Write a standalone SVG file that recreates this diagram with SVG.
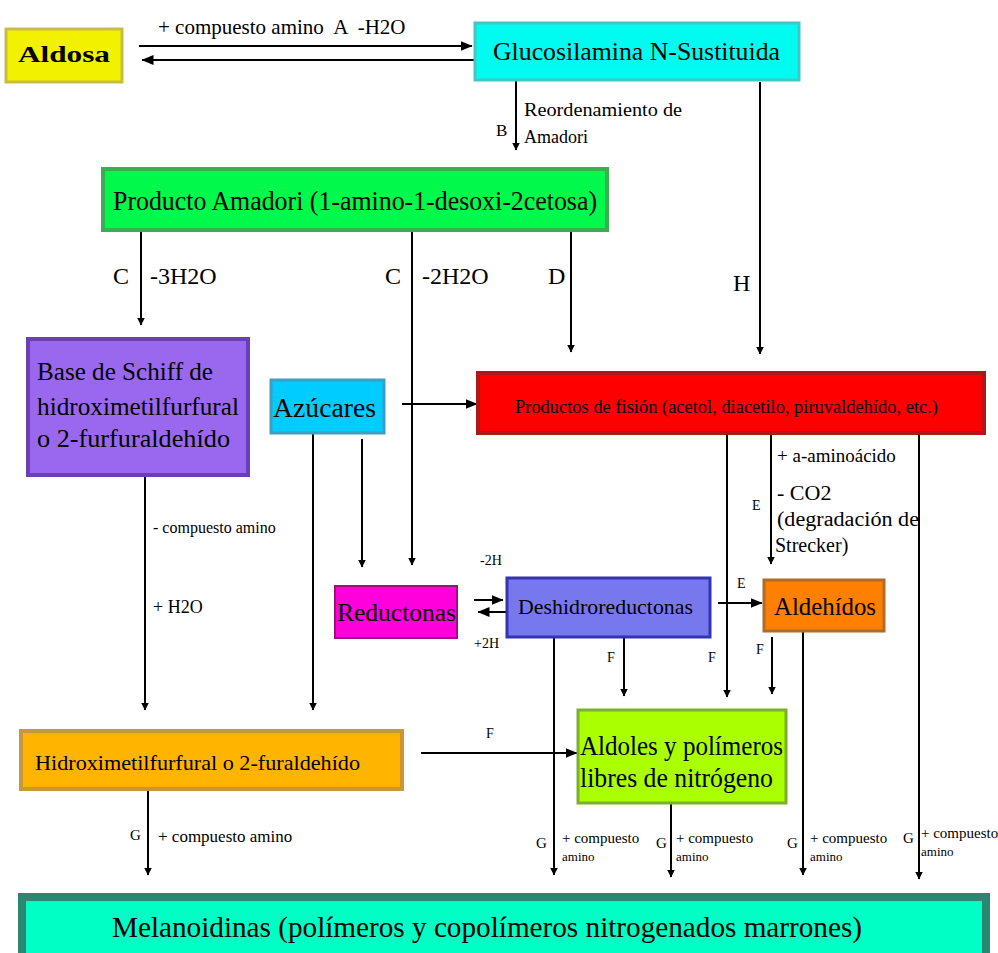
<svg xmlns="http://www.w3.org/2000/svg" width="998" height="953" viewBox="0 0 998 953">
<defs>
<marker id="ah" viewBox="0 0 8 8" refX="7.5" refY="4" markerWidth="8" markerHeight="8" markerUnits="userSpaceOnUse" orient="auto"><path d="M0,0 L8,4 L0,8 z" fill="#000"/></marker>
<marker id="ahL" viewBox="0 0 12 10" refX="11.5" refY="5" markerWidth="12" markerHeight="10" markerUnits="userSpaceOnUse" orient="auto"><path d="M0,0 L12,5 L0,10 z" fill="#000"/></marker>
</defs>
<style>
text{font-family:"Liberation Serif","Times New Roman",serif;fill:#000}
.c line{stroke:#000;stroke-width:2;fill:none}
.a{marker-end:url(#ah)}
.al{marker-end:url(#ahL)}
.lbl{font-size:24px}
.sm{font-size:15px}
.xs{font-size:13px}
</style>
<rect width="998" height="953" fill="#fff"/>

<g id="connectors" class="c">
<line class="al" x1="139" y1="46" x2="472" y2="46"/>
<line class="al" x1="474" y1="60" x2="142" y2="60"/>
<line class="a" x1="516" y1="80" x2="516" y2="150"/>
<line class="a" x1="760" y1="82" x2="760" y2="354"/>
<line class="a" x1="141" y1="230" x2="141" y2="325"/>
<line class="a" x1="412" y1="230" x2="412" y2="565"/>
<line class="a" x1="571" y1="230" x2="571" y2="352"/>
<line class="al" x1="402" y1="404" x2="477" y2="404"/>
<line class="a" x1="145" y1="475" x2="145" y2="710"/>
<line class="a" x1="313" y1="433" x2="313" y2="710"/>
<line class="a" x1="362" y1="439" x2="362" y2="567"/>
<line class="a" x1="727" y1="434" x2="727" y2="697"/>
<line class="a" x1="771" y1="434" x2="771" y2="564"/>
<line class="a" x1="919" y1="434" x2="919" y2="879"/>
<line class="al" x1="474" y1="600" x2="503" y2="600"/>
<line class="al" x1="506" y1="612" x2="478" y2="612"/>
<line class="al" x1="718" y1="603" x2="762" y2="603"/>
<line class="a" x1="554" y1="637" x2="554" y2="875"/>
<line class="a" x1="624" y1="637" x2="624" y2="696"/>
<line class="a" x1="772" y1="637" x2="772" y2="694"/>
<line class="a" x1="803" y1="632" x2="803" y2="875"/>
<line class="a" x1="671" y1="803" x2="671" y2="877"/>
<line class="al" x1="421" y1="753" x2="577" y2="753"/>
<line class="a" x1="148" y1="790" x2="148" y2="875"/>
</g>

<g id="edge-labels">
<text x="158" y="34" font-size="21" xml:space="preserve">+ compuesto amino  A  -H2O</text>
<text x="496" y="136" font-size="17">B</text>
<text x="524" y="116" font-size="18" textLength="158" lengthAdjust="spacingAndGlyphs">Reordenamiento de</text>
<text x="524" y="143" font-size="18">Amadori</text>
<text x="113" y="284" class="lbl">C</text>
<text x="150" y="284" class="lbl">-3H2O</text>
<text x="385" y="284" class="lbl">C</text>
<text x="422" y="284" class="lbl">-2H2O</text>
<text x="548" y="284" class="lbl">D</text>
<text x="733" y="291" class="lbl">H</text>
<text x="153" y="533" font-size="16">- compuesto amino</text>
<text x="153" y="613" font-size="18">+ H2O</text>
<text x="777" y="462" font-size="19">+ a-aminoácido</text>
<text x="777" y="500" font-size="22">- CO2</text>
<text x="777" y="526" font-size="20" textLength="142" lengthAdjust="spacingAndGlyphs">(degradación de</text>
<text x="775" y="552" font-size="20">Strecker)</text>
<text x="752" y="510" font-size="14">E</text>
<text x="480" y="565" font-size="14">-2H</text>
<text x="474" y="648" font-size="14">+2H</text>
<text x="737" y="588" font-size="14">E</text>
<text x="607" y="662" font-size="14">F</text>
<text x="708" y="662" font-size="14">F</text>
<text x="756" y="654" font-size="14">F</text>
<text x="486" y="738" font-size="14">F</text>
<text x="130" y="840" font-size="15">G</text>
<text x="158" y="842" font-size="17">+ compuesto amino</text>
<text x="536" y="848" font-size="15">G</text>
<text x="562" y="843" class="sm">+ compuesto</text>
<text x="562" y="861" class="xs">amino</text>
<text x="656" y="848" font-size="15">G</text>
<text x="676" y="843" class="sm">+ compuesto</text>
<text x="676" y="861" class="xs">amino</text>
<text x="787" y="848" font-size="15">G</text>
<text x="810" y="843" class="sm">+ compuesto</text>
<text x="810" y="861" class="xs">amino</text>
<text x="903" y="843" font-size="15">G</text>
<text x="921" y="838" class="sm">+ compuesto</text>
<text x="921" y="856" class="xs">amino</text>
</g>

<g id="aldosa">
<rect x="6" y="29" width="116" height="53" fill="#f2f200" stroke="#c9bb4a" stroke-width="3"/>
<text x="18" y="62" font-size="23" font-weight="bold" textLength="92" lengthAdjust="spacingAndGlyphs">Aldosa</text>
</g>

<g id="glucosilamina">
<rect x="475" y="23" width="324" height="57" fill="#00fbf0" stroke="#45c6c6" stroke-width="3"/>
<text x="493" y="60" font-size="26" textLength="287" lengthAdjust="spacingAndGlyphs">Glucosilamina N-Sustituida</text>
</g>

<g id="amadori">
<rect x="103" y="169" width="504" height="61" fill="#00f94a" stroke="#38b052" stroke-width="4"/>
<text x="113" y="210" font-size="27" textLength="484" lengthAdjust="spacingAndGlyphs">Producto Amadori (1-amino-1-desoxi-2cetosa)</text>
</g>

<g id="schiff">
<rect x="28" y="339" width="220" height="136" fill="#9a68ee" stroke="#6b3fb8" stroke-width="4"/>
<text x="37" y="380" font-size="25" textLength="176" lengthAdjust="spacingAndGlyphs">Base de Schiff de</text>
<text x="37" y="415" font-size="25" textLength="202" lengthAdjust="spacingAndGlyphs">hidroximetilfurfural</text>
<text x="37" y="447" font-size="25" textLength="193" lengthAdjust="spacingAndGlyphs">o 2-furfuraldehído</text>
</g>

<g id="azucares">
<rect x="271" y="380" width="113" height="53" fill="#00ccff" stroke="#3d9fc2" stroke-width="3"/>
<text x="273" y="417" font-size="27" textLength="103" lengthAdjust="spacingAndGlyphs">Azúcares</text>
</g>

<g id="fision">
<rect x="478" y="373" width="506" height="60" fill="#ff0000" stroke="#b01818" stroke-width="4"/>
<text x="515" y="413" font-size="18" textLength="423" lengthAdjust="spacingAndGlyphs">Productos de fisión (acetol, diacetilo, piruvaldehído, etc.)</text>
</g>

<g id="reductonas">
<rect x="335" y="586" width="122" height="52" fill="#ff00dd" stroke="#a0107a" stroke-width="2"/>
<text x="337" y="621" font-size="25" textLength="119" lengthAdjust="spacingAndGlyphs">Reductonas</text>
</g>

<g id="deshidroreductonas">
<rect x="507" y="578" width="203" height="59" fill="#7878ee" stroke="#3333b3" stroke-width="3"/>
<text x="518" y="614" font-size="21" textLength="175" lengthAdjust="spacingAndGlyphs">Deshidroreductonas</text>
</g>

<g id="aldehidos">
<rect x="764" y="580" width="120" height="51" fill="#ff8000" stroke="#b06a2a" stroke-width="3"/>
<text x="774" y="615" font-size="25" textLength="102" lengthAdjust="spacingAndGlyphs">Aldehídos</text>
</g>

<g id="aldoles">
<rect x="578" y="710" width="208" height="93" fill="#aaff00" stroke="#7cb02a" stroke-width="3"/>
<text x="580" y="755" font-size="27" textLength="203" lengthAdjust="spacingAndGlyphs">Aldoles y polímeros</text>
<text x="580" y="787" font-size="27" textLength="193" lengthAdjust="spacingAndGlyphs">libres de nitrógeno</text>
</g>

<g id="hidroximetilfurfural">
<rect x="21" y="731" width="381" height="58" fill="#ffb400" stroke="#c89838" stroke-width="4"/>
<text x="35" y="770" font-size="21" textLength="325" lengthAdjust="spacingAndGlyphs">Hidroximetilfurfural o 2-furaldehído</text>
</g>

<g id="melanoidinas">
<rect x="22" y="897" width="964" height="62" fill="#00ffc4" stroke="#2a8870" stroke-width="8"/>
<text x="112" y="937" font-size="30" textLength="750" lengthAdjust="spacingAndGlyphs">Melanoidinas (polímeros y copolímeros nitrogenados marrones)</text>
</g>
</svg>
